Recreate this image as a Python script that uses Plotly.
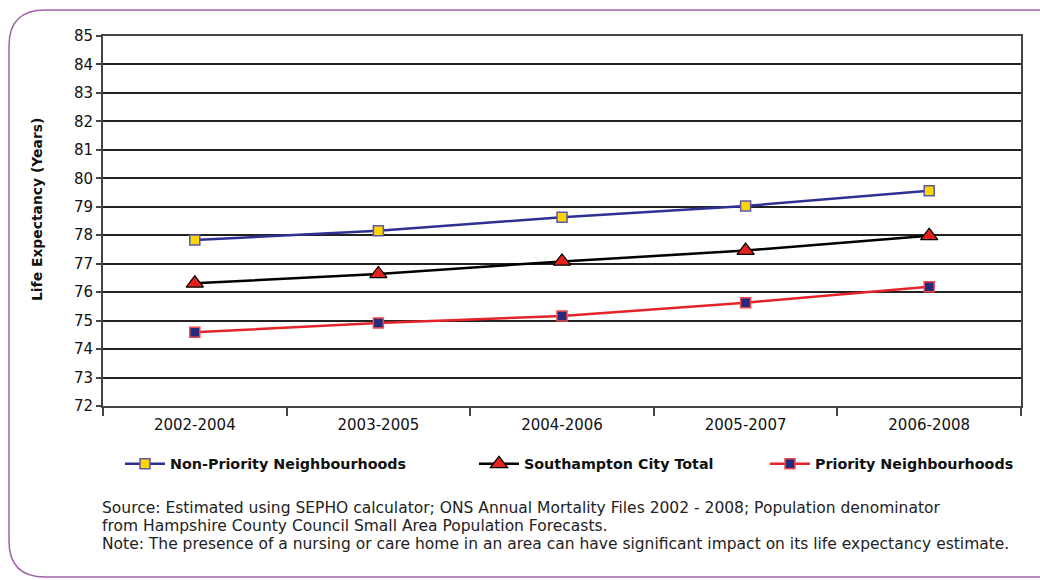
import plotly.graph_objects as go

# Three-year rolling periods
periods = ["2002-2004", "2003-2005", "2004-2006", "2005-2007", "2006-2008"]

# Life expectancy at birth (years)
non_priority = [77.83, 78.16, 78.63, 79.03, 79.56]
city_total = [76.31, 76.64, 77.08, 77.46, 77.98]
priority = [74.59, 74.92, 75.16, 75.63, 76.19]

y_ticks = list(range(72, 86))

# Footnote lines under the chart
footnote_lines = [
    "Source: Estimated using SEPHO calculator; ONS Annual Mortality Files 2002 - 2008; "
    "Population denominator",
    "from Hampshire County Council Small Area Population Forecasts.",
    "Note: The presence of a nursing or care home in an area can have significant "
    "impact on its life expectancy estimate.",
]

W, H = 1040, 580
L, R, T, B = 103, 19, 36, 174
PW, PH = W - L - R, H - T - B


def px(x):
    return (x - L) / PW


def py(y):
    return (H - B - y) / PH


NAVY = "#2e3192"
RED = "#e4232a"
YELLOW = "#ffd400"
PURPLE = "#a262ab"

fig = go.Figure()
fig.add_trace(go.Scatter(
    x=periods, y=non_priority, name="Non-Priority Neighbourhoods",
    mode="lines+markers", legend="legend",
    line=dict(color=NAVY, width=2.5),
    marker=dict(symbol="square", size=10, color=YELLOW,
                line=dict(color="#5a5aa8", width=1.5)),
))
fig.add_trace(go.Scatter(
    x=periods, y=city_total, name="Southampton City Total",
    mode="lines+markers", legend="legend2",
    line=dict(color="#000000", width=2.5),
    marker=dict(symbol="triangle-up", size=15, color="#e3231b",
                line=dict(color="#000000", width=1.2)),
))
fig.add_trace(go.Scatter(
    x=periods, y=priority, name="Priority Neighbourhoods",
    mode="lines+markers", legend="legend3",
    line=dict(color=RED, width=2.5),
    marker=dict(symbol="square", size=10, color="#262a7a",
                line=dict(color="#ee4a4a", width=1.5)),
))

# Rounded frame around the whole graphic (right edge runs off the page)
r = 36
x0, y0, x1, y1 = 9, 10, 1075, 577
path = (
    f"M {px(x0)},{py(y0 + r)} "
    f"Q {px(x0)},{py(y0)} {px(x0 + r)},{py(y0)} "
    f"L {px(x1 - r)},{py(y0)} "
    f"Q {px(x1)},{py(y0)} {px(x1)},{py(y0 + r)} "
    f"L {px(x1)},{py(y1 - r)} "
    f"Q {px(x1)},{py(y1)} {px(x1 - r)},{py(y1)} "
    f"L {px(x0 + r)},{py(y1)} "
    f"Q {px(x0)},{py(y1)} {px(x0)},{py(y1 - r)} Z"
)
fig.add_shape(type="path", path=path, xref="paper", yref="paper",
              line=dict(color=PURPLE, width=1.5), layer="below")

for line_text, y_line in zip(footnote_lines, [508, 526, 544]):
    fig.add_annotation(
        text=line_text, xref="paper", yref="paper",
        x=px(100), y=py(y_line), xanchor="left", yanchor="middle",
        align="left", showarrow=False,
        font=dict(family="DejaVu Sans", size=15.5, color="#222222"),
    )

# Vertical axis title
fig.add_annotation(
    text="<b>Life Expectancy (Years)</b>", xref="paper", yref="paper",
    x=px(37), y=py(210), textangle=-90, showarrow=False,
    xanchor="center", yanchor="middle",
    font=dict(family="DejaVu Sans", size=13.9, color="#111111"),
)

legend_font = dict(family="DejaVu Sans", size=14.3, color="#111111", weight="bold")
legend_common = dict(orientation="h", y=py(464), yanchor="middle",
                     xanchor="left", font=legend_font, itemwidth=40,
                     bgcolor="rgba(0,0,0,0)")

fig.update_layout(
    width=W, height=H,
    margin=dict(l=L, r=R, t=T, b=B),
    paper_bgcolor="#ffffff", plot_bgcolor="#ffffff",
    font=dict(family="DejaVu Sans", color="#111111"),
    showlegend=True,
    legend=dict(x=px(120), **legend_common),
    legend2=dict(x=px(474), **legend_common),
    legend3=dict(x=px(765), **legend_common),
    xaxis=dict(
        type="category", tickson="boundaries",
        showgrid=False, showline=True, linecolor="#444444", linewidth=2,
        mirror=True,
        ticks="outside", ticklen=8, tickcolor="#444444", tickwidth=1.5,
        ticklabelstandoff=4,
        tickfont=dict(family="DejaVu Sans", size=15, color="#111111"),
        range=[-0.5, 4.5],
    ),
    yaxis=dict(
        range=[72, 85], tickvals=y_ticks,
        showgrid=True, gridcolor="#222222", gridwidth=1.5,
        showline=True, linecolor="#444444", linewidth=2, mirror=True,
        ticks="outside", ticklen=5, tickcolor="#444444", tickwidth=1.5,
        tickfont=dict(family="DejaVu Sans", size=15, color="#111111"),
        zeroline=False,
    ),
)

fig.write_html("out.html")
